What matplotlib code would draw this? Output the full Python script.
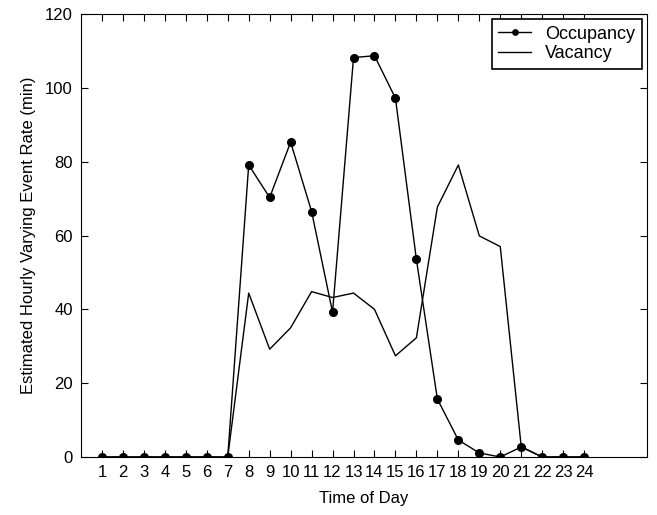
import matplotlib
matplotlib.use("Agg")
import matplotlib.pyplot as plt

plt.rcParams['font.family'] = ['Liberation Sans', 'DejaVu Sans']

hours = list(range(1, 25))
occupancy = [0, 0, 0, 0, 0, 0, 0, 79.1, 70.3, 85.3, 66.5, 39.2, 108.2, 108.7,
             97.2, 53.5, 15.7, 4.6, 1.1, 0, 2.7, 0, 0, 0]
vacancy = [0, 0, 0, 0, 0, 0, 0, 44.4, 29.2, 35.0, 44.8, 43.2, 44.4, 40.0,
           27.4, 32.3, 67.7, 79.1, 59.9, 57.0, 2.8, 0, 0, 0]

fig = plt.figure(figsize=(6.57, 5.15), dpi=100)
ax = fig.add_axes([81 / 657, 1 - 457 / 515, 566 / 657, 443 / 515])

ax.plot(hours, occupancy, color='black', lw=1.0, marker='o', markersize=5.5, label='Occupancy')
ax.plot(hours, vacancy, color='black', lw=1.0, label='Vacancy')

ax.set_xlim(0, 27)
ax.set_ylim(0, 120)
ax.set_xticks(hours)
ax.set_yticks(range(0, 121, 20))
ax.tick_params(direction='in', top=True, right=True, labelsize=12, length=5, width=0.8, pad=6)
for s in ax.spines.values():
    s.set_linewidth(0.8)

ax.set_xlabel('Time of Day', fontsize=12, labelpad=8)
ax.set_ylabel('Estimated Hourly Varying Event Rate (min)', fontsize=12, labelpad=6)

leg = ax.legend(loc='upper right', fontsize=13, fancybox=False, framealpha=1,
                edgecolor='black', borderaxespad=0.3, handlelength=1.8,
                handletextpad=0.8, borderpad=0.35, labelspacing=0.15,
                markerscale=0.7)
leg.get_frame().set_linewidth(1.2)

fig.savefig('out.png', dpi=100)
